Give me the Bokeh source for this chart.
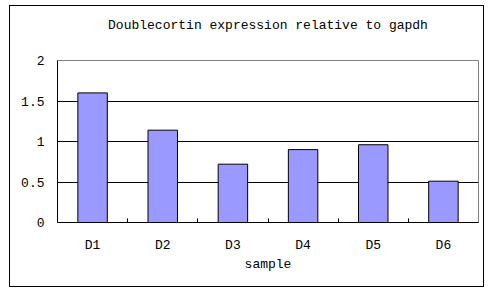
from bokeh.plotting import figure
from bokeh.models import FixedTicker, Range1d, LinearAxis
from bokeh.embed import file_html
from bokeh.resources import INLINE

title_text = "Doublecortin expression relative to gapdh"
x_label = "sample"
samples = ["D1", "D2", "D3", "D4", "D5", "D6"]
expression = [1.60, 1.14, 0.72, 0.90, 0.96, 0.51]
y_ticks = [0, 0.5, 1, 1.5, 2]
y_tick_labels = ["0", "0.5", "1", "1.5", "2"]

FONT = "'Liberation Mono', 'Courier New', monospace"

xs = [i + 0.5 for i in range(len(samples))]

p = figure(width=475, height=282, output_backend="svg", toolbar_location=None,
           title=None,
           x_range=Range1d(0, len(samples)), y_range=Range1d(0, 2),
           min_border_left=47, min_border_right=7, min_border_top=54,
           min_border_bottom=66, margin=(5, 0, 0, 9),
           styles={"border": "1px solid black", "box-sizing": "border-box"},
           background_fill_color="white", border_fill_color="white")

# chart title, drawn as the label of an empty axis above the frame
title_axis = LinearAxis(ticker=FixedTicker(ticks=[]), axis_label=title_text,
                        axis_line_color=None, major_tick_line_color=None,
                        minor_tick_line_color=None, major_label_standoff=0,
                        major_tick_out=0, major_tick_in=0,
                        minor_tick_out=0, minor_tick_in=0,
                        axis_label_standoff=28,
                        axis_label_text_font=FONT,
                        axis_label_text_font_size="13px",
                        axis_label_text_font_style="normal",
                        axis_label_text_color="black")
p.add_layout(title_axis, "above")

p.vbar(x=xs, top=expression, width=0.42, bottom=0,
       fill_color="#9999FF", line_color="black", line_width=1)

p.outline_line_color = "#808080"
p.outline_line_width = 1

# x axis
xaxis = p.below[0]
xaxis.ticker = FixedTicker(ticks=xs, minor_ticks=list(range(1, len(samples))))
xaxis.major_label_overrides = {x: s for x, s in zip(xs, samples)}
xaxis.major_tick_line_color = None
xaxis.minor_tick_in = 4
xaxis.minor_tick_out = 0
xaxis.minor_tick_line_color = "black"
xaxis.axis_line_color = "black"
xaxis.major_label_text_font = FONT
xaxis.major_label_text_font_size = "13px"
xaxis.major_label_text_color = "black"
xaxis.major_label_standoff = 9
xaxis.axis_label = x_label
xaxis.axis_label_text_font = FONT
xaxis.axis_label_text_font_size = "13px"
xaxis.axis_label_text_font_style = "normal"
xaxis.axis_label_text_color = "black"
xaxis.axis_label_standoff = 1

# y axis
yaxis = p.left[0]
yaxis.ticker = FixedTicker(ticks=y_ticks)
yaxis.major_label_overrides = {t: l for t, l in zip(y_ticks, y_tick_labels)}
yaxis.major_tick_in = 0
yaxis.major_tick_out = 0
yaxis.minor_tick_line_color = None
yaxis.axis_line_color = "black"
yaxis.major_label_text_font = FONT
yaxis.major_label_text_font_size = "13px"
yaxis.major_label_text_color = "black"
yaxis.major_label_standoff = 13

p.xgrid.grid_line_color = None
p.ygrid.ticker = FixedTicker(ticks=[0.5, 1, 1.5])
p.ygrid.grid_line_color = "black"
p.ygrid.grid_line_width = 1

open("out.html", "w").write(file_html(p, INLINE))
